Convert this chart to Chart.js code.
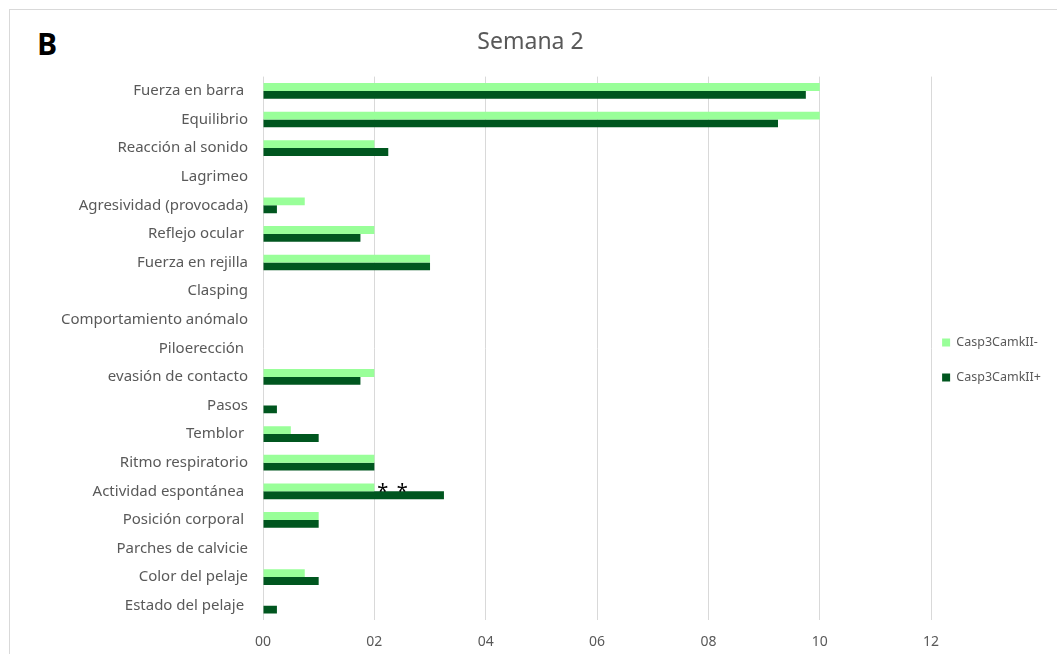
<!DOCTYPE html>
<html>
<head>
<meta charset="utf-8">
<script src="https://cdn.jsdelivr.net/npm/chart.js@4/dist/chart.umd.min.js"></script>
<style>
  html, body { margin: 0; padding: 0; background: #fff; overflow: hidden; }
  #frame { position: absolute; left: 9px; top: 9px; width: 1048px; height: 645px; box-sizing: border-box;
           border-top: 1px solid #d9d9d9; border-left: 1px solid #d9d9d9; }
  #panel { position: absolute; left: 37px; top: 29px; font: bold 30px/30px "Open Sans", sans-serif; color: #000; }
  #chart { position: absolute; left: 0; top: 0; }
</style>
</head>
<body>
<div id="frame"></div>
<div id="panel">B</div>
<canvas id="chart" width="1057" height="654"></canvas>
<script>
// categories read top to bottom (some labels carry a trailing space, as in the source)
var categories = ["Fuerza en barra ", "Equilibrio", "Reacción al sonido", "Lagrimeo",
  "Agresividad (provocada)", "Reflejo ocular ", "Fuerza en rejilla", "Clasping",
  "Comportamiento anómalo", "Piloerección ", "evasión de contacto", "Pasos", "Temblor ",
  "Ritmo respiratorio", "Actividad espontánea ", "Posición corporal ", "Parches de calvicie",
  "Color del pelaje", "Estado del pelaje "];
var casp_minus = [10, 10, 2, 0, 0.75, 2, 3, 0, 0, 0, 2, 0, 0.5, 2, 2, 1, 0, 0.75, 0];
var casp_plus = [9.75, 9.25, 2.25, 0, 0.25, 1.75, 3, 0, 0, 0, 1.75, 0.25, 1, 2, 3.25, 1, 0, 1, 0.25];
var x_tick_labels = ["00", "02", "04", "06", "08", "10", "12"];
// significance marks
var sig_category = "Actividad espontánea ";
var sig_marks_x = [2.15, 2.5];

var TEXT_GRAY = "#595959";
var FONT = "'Noto Sans', sans-serif";

const sigMarks = {
  id: "sigMarks",
  afterDatasetsDraw(chart) {
    const ctx = chart.ctx;
    const x = chart.scales.x;
    const y = chart.scales.y;
    const yc = y.getPixelForValue(categories.indexOf(sig_category));
    ctx.save();
    ctx.fillStyle = "#000";
    ctx.font = "20px " + FONT;
    ctx.textAlign = "center";
    ctx.textBaseline = "alphabetic";
    sig_marks_x.forEach((v) => ctx.fillText("*", x.getPixelForValue(v), yc + 7));
    ctx.restore();
  }
};

const config = {
  type: "bar",
  data: {
    labels: categories,
    datasets: [
      { label: "Casp3CamkII-", data: casp_minus, backgroundColor: "#99ff99", borderWidth: 0 },
      { label: "Casp3CamkII+", data: casp_plus, backgroundColor: "#00561f", borderWidth: 0 }
    ]
  },
  options: {
    indexAxis: "y",
    responsive: false,
    animation: false,
    categoryPercentage: 0.55,
    barPercentage: 1.0,
    layout: { padding: { left: 10, right: 6, top: 0, bottom: 4 } },
    scales: {
      x: {
        min: 0,
        max: 12,
        ticks: {
          stepSize: 2,
          color: TEXT_GRAY,
          font: { family: FONT, size: 14 },
          padding: 14,
          callback: (value, index) => x_tick_labels[index]
        },
        grid: { color: "#d9d9d9", drawTicks: false },
        border: { display: false },
        afterFit(scale) { scale.height = 30; }
      },
      y: {
        ticks: { color: TEXT_GRAY, font: { family: FONT, size: 15 }, padding: 15 },
        grid: { display: false, drawTicks: false },
        border: { display: false },
        afterFit(scale) { scale.width = 253; }
      }
    },
    plugins: {
      title: {
        display: true,
        text: "Semana 2",
        color: TEXT_GRAY,
        font: { family: FONT, size: 23, weight: "normal" },
        padding: { top: 29, bottom: 20 }
      },
      legend: {
        position: "right",
        fullSize: false,
        title: { display: true, text: "", font: { size: 12, lineHeight: 1 }, padding: { top: 0, bottom: 23 } },
        labels: {
          boxWidth: 8,
          boxHeight: 8,
          padding: 11,
          color: TEXT_GRAY,
          font: { family: FONT, size: 12.5, lineHeight: 24 / 12.5 },
          // array text makes each row as tall as the font line height
          generateLabels(chart) {
            return Chart.defaults.plugins.legend.labels.generateLabels(chart).map(function (item) {
              item.text = [item.text];
              return item;
            });
          }
        }
      },
      tooltip: { enabled: false }
    }
  },
  plugins: [sigMarks]
};

new Chart(document.getElementById("chart"), config);
</script>
</body>
</html>
